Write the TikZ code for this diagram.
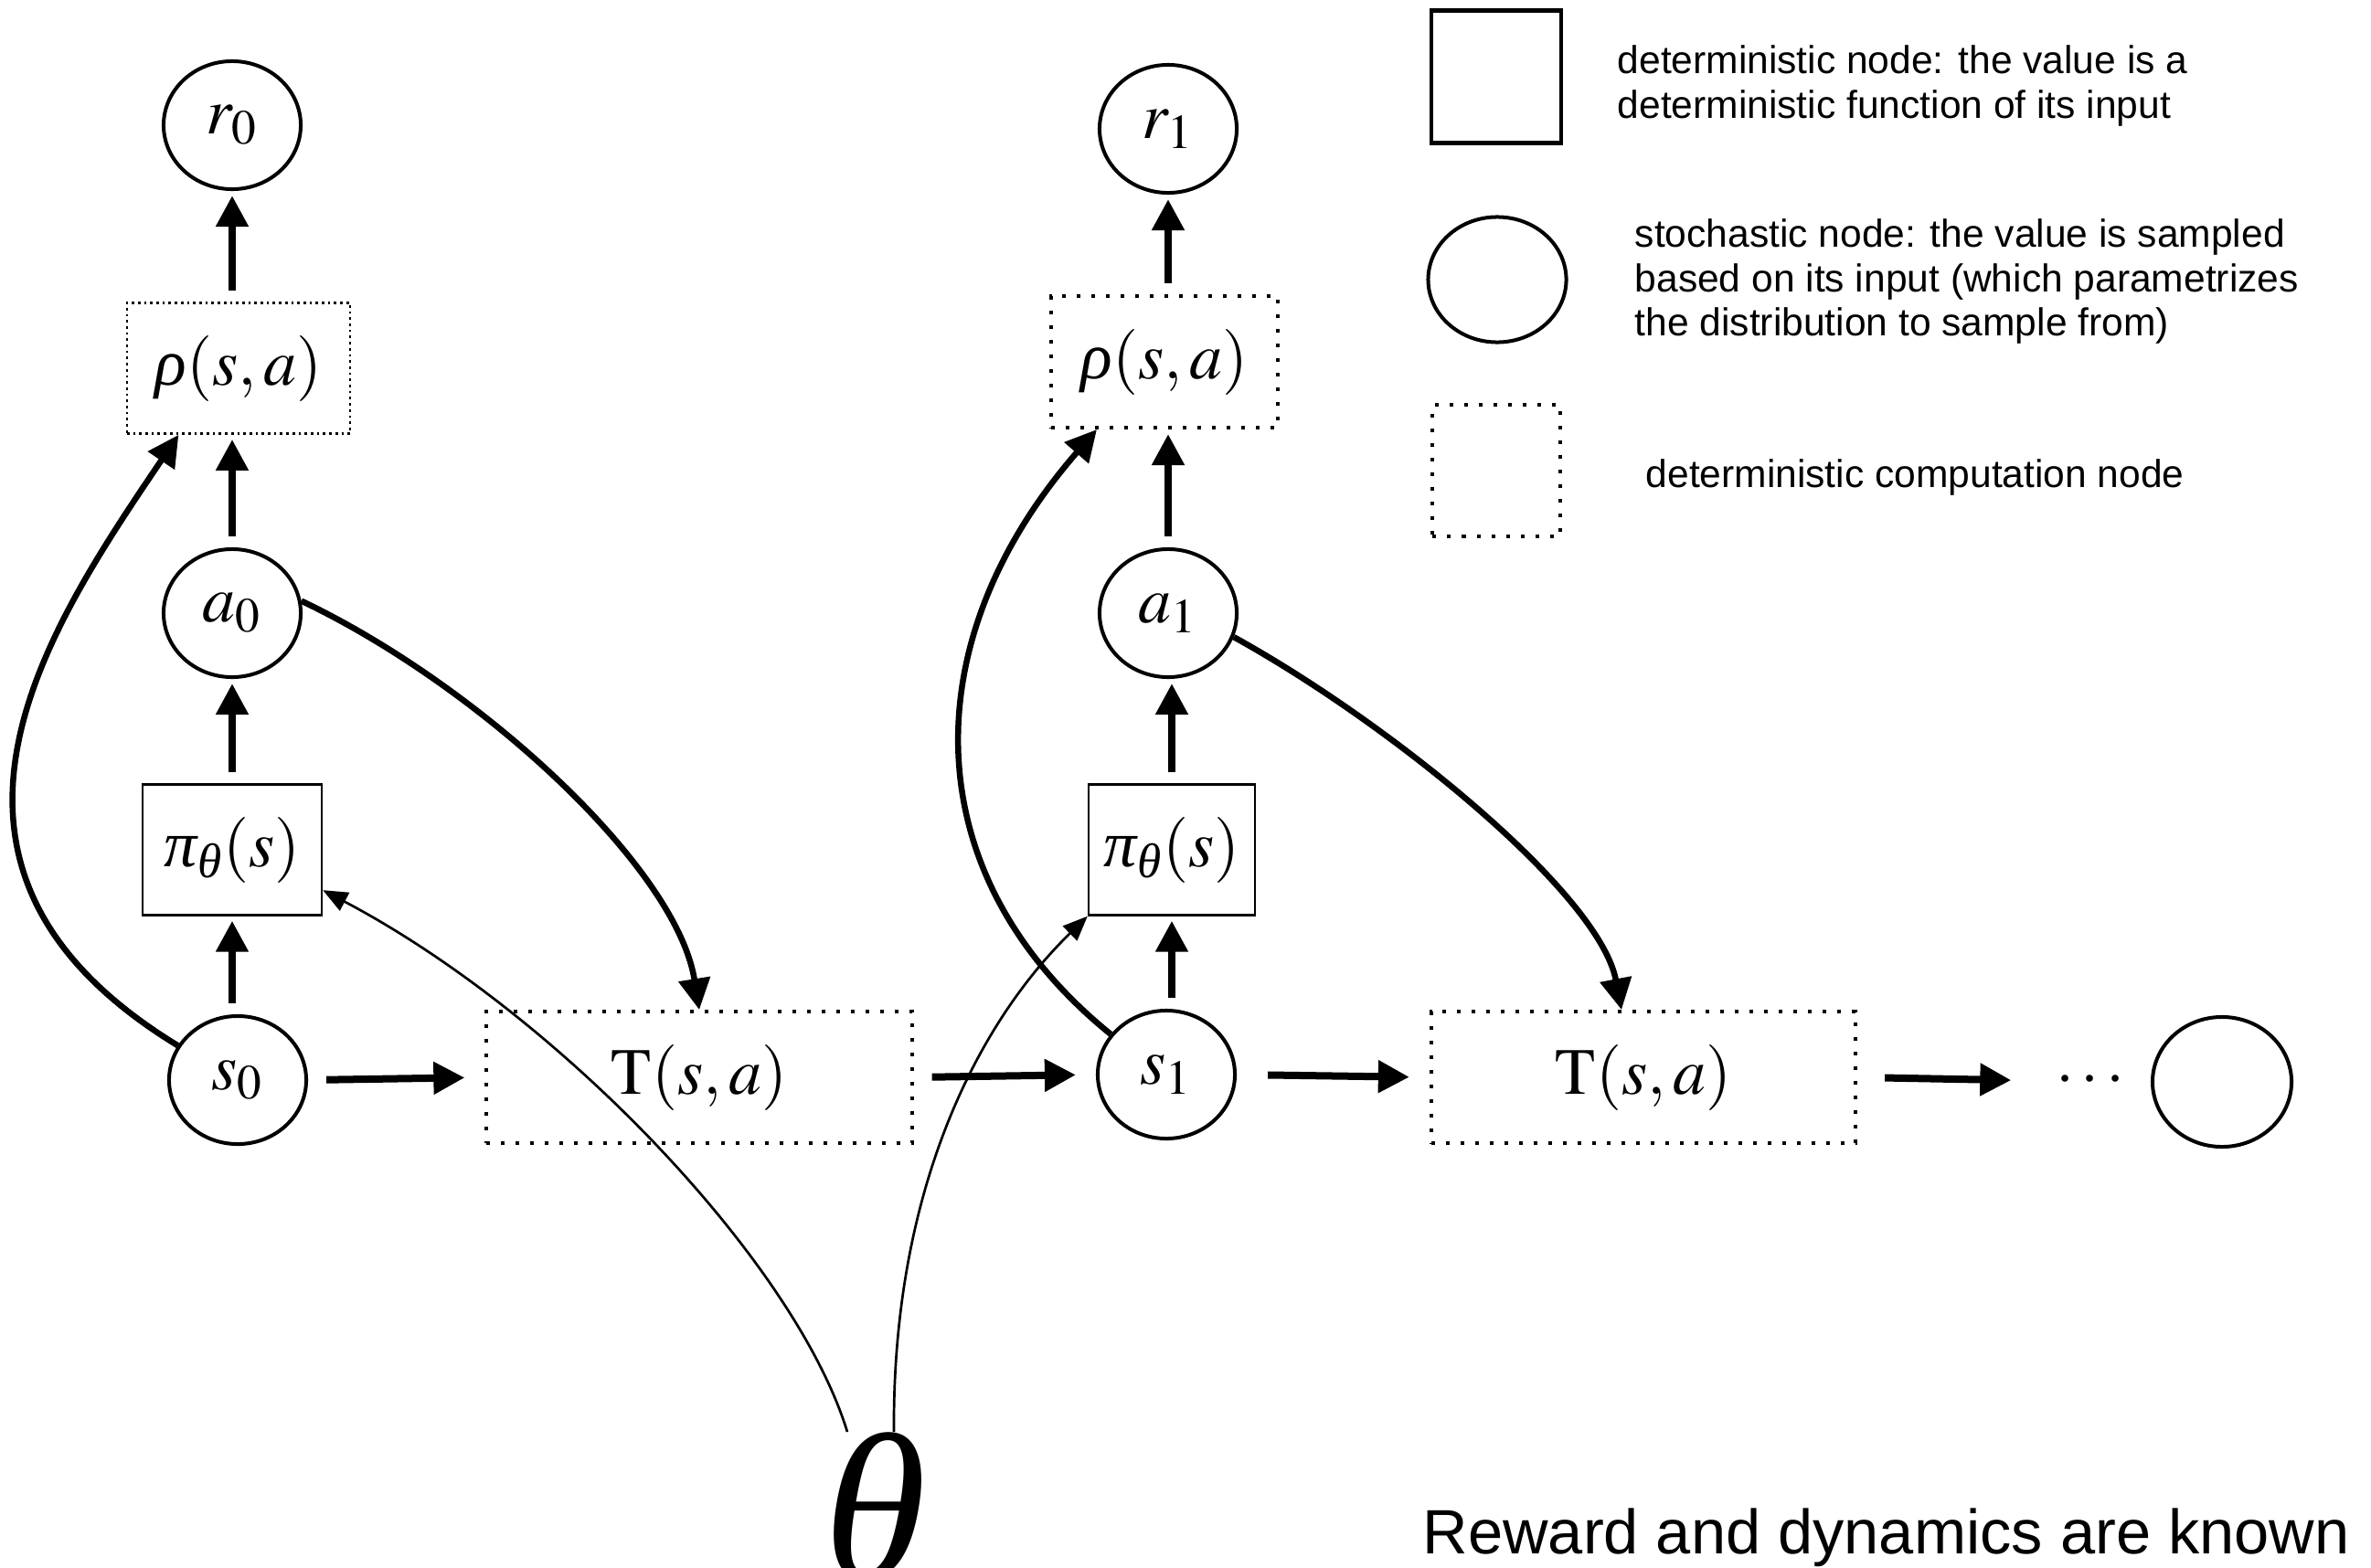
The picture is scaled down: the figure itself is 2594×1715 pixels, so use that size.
\documentclass[tikz,border=0pt]{standalone}
\usepackage{amsmath}
\usepackage{mathptmx}
\usepackage[no-math]{fontspec}
\newfontfamily\legendfont{Liberation Sans}
\newfontfamily\serifgr{Liberation Serif}
\usetikzlibrary{arrows.meta}
\usetikzlibrary{shapes.geometric}

\newcommand{\graphfont}{\fontsize{20.5}{24}\selectfont}
\newcommand{\grit}[1]{\text{\serifgr\itshape #1}}

\tikzset{
  stoch/.style={ellipse, draw, line width=0.04cm, minimum width=1.5cm, minimum height=1.4cm, inner sep=0pt, font=\graphfont},
  detbox/.style={rectangle, draw, line width=0.023cm, inner sep=0pt, minimum height=1.43cm, font=\graphfont},
  compthin/.style={rectangle, draw, line width=0.027cm, dash pattern=on 0.027cm off 0.04cm, inner sep=0pt, minimum height=1.43cm, font=\graphfont},
  compthick/.style={rectangle, draw, line width=0.04cm, dash pattern=on 0.04cm off 0.12cm, inner sep=0pt, minimum height=1.44cm, font=\graphfont},
  thickarr/.style={line width=0.08cm, -{Triangle[length=0.34cm, width=0.34cm]}},
  thickcurve/.style={line width=0.065cm, -{Triangle[length=0.34cm, width=0.34cm]}},
  thinarr/.style={line width=0.027cm, -{Triangle[length=0.27cm, width=0.22cm]}},
  vshort/.style={shorten <=0.12cm, shorten >=0.05cm},
  hshort/.style={shorten <=0.2cm, shorten >=0.22cm},
  legtext/.style={inner sep=0pt, align=left, font=\legendfont\fontsize{12.1}{13.9}\selectfont}
}

\begin{document}
\begin{tikzpicture}[x=0.01cm, y=-0.01cm]
\useasboundingbox (0,0) rectangle (2594,1715);

\node[stoch]                         (r0)   at ( 254,  137) {$r_0$};
\node[compthin, minimum width=2.44cm] (rho0) at ( 261,  403) {$\grit{ρ}(s,a)$};
\node[stoch]                         (a0)   at ( 254,  671) {$a_0$};
\node[detbox, minimum width=1.96cm]  (pi0)  at ( 254,  930) {$\grit{π}_{\grit{θ}}(s)$};
\node[stoch]                         (s0)   at ( 260, 1182) {$s_0$};
\node[compthick, minimum width=4.65cm] (T0) at ( 765, 1179) {$\mathrm{T}(s,a)$};

\node[stoch]                          (r1)   at (1278,  141) {$r_1$};
\node[compthick, minimum width=2.48cm] (rho1) at (1274,  396) {$\grit{ρ}(s,a)$};
\node[stoch]                          (a1)   at (1278,  671) {$a_1$};
\node[detbox, minimum width=1.82cm]   (pi1)  at (1282,  930) {$\grit{π}_{\grit{θ}}(s)$};
\node[stoch]                          (s1)   at (1276, 1176) {$s_1$};
\node[compthick, minimum width=4.64cm] (T1) at (1798, 1179) {$\mathrm{T}(s,a)$};
\node[inner sep=0pt, font=\graphfont] (dots) at (2291, 1183) {$\cdots$};
\node[stoch, minimum width=1.52cm, minimum height=1.42cm] (sN) at (2431, 1184) {};

\node[anchor=north, inner sep=0pt, font=\serifgr\itshape\fontsize{65}{65}\selectfont] (theta) at (958, 1567) {θ};

\draw[thickarr, vshort] (rho0.north -| r0) -- (r0);
\draw[thickarr, vshort] (a0) -- (rho0.south -| a0);
\draw[thickarr, vshort] (pi0) -- (a0);
\draw[thickarr, vshort] (s0.north -| pi0) -- (pi0);

\draw[thickarr, vshort] (rho1.north -| r1) -- (r1);
\draw[thickarr, vshort] (a1) -- (rho1.south -| a1);
\draw[thickarr, vshort] (pi1) -- (a1.south -| pi1);
\draw[thickarr, vshort] (s1.north -| pi1) -- (pi1);

\draw[thickarr, hshort] (s0.east) -- (T0.west);
\draw[thickarr, hshort] (T0.east) -- (s1.west);
\draw[thickarr, hshort, shorten <=0.34cm] (s1.east) -- (T1.west);
\draw[thickarr, hshort, shorten <=0.3cm, shorten >=0.48cm] (T1.east) -- (dots.west);

\draw[thickcurve] (s0.150) .. controls +(-320,-195) and +(-144,213) .. (rho0.228);
\draw[thickcurve] (a0.10) .. controls +(192,91) and +(-25,-157) .. (T0.north);
\draw[thickcurve] (s1.144) .. controls +(-215,-174) and +(-202,232) .. (rho1.225);
\draw[thickcurve] (a1.-20) .. controls +(172,95) and +(-24,-127) .. ([xshift=-0.24cm]T1.north);

\draw[thinarr] ([xshift=-0.31cm]theta.north) .. controls +(-57,-186) and +(258,136) .. (pi0.-24);
\draw[thinarr] ([xshift=0.2cm]theta.north) .. controls +(-2,-264) and +(-121,118) .. (pi1.south west);

\node[draw, line width=1.3pt, minimum width=1.42cm, minimum height=1.45cm] (legdet) at (1637, 84) {};
\node[legtext, anchor=west] (legdettext) at (1769, 94) {deterministic node: the value is a\\deterministic function of its input};
\node[stoch, minimum width=1.51cm, minimum height=1.37cm] (legsto) at (1638, 306) {};
\node[legtext, anchor=west] (legstotext) at (1788, 308) {stochastic node: the value is sampled\\based on its input (which parametrizes\\the distribution to sample from)};
\node[compthick, minimum width=1.39cm] (legcomp) at (1637, 515) {};
\node[legtext, anchor=west] (legcomptext) at (1800, 522) {deterministic computation node};

\node[anchor=base west, inner sep=0pt, font=\legendfont\fontsize{19.5}{22}\selectfont] (caption) at (1556, 1700) {Reward and dynamics are known};
\end{tikzpicture}
\end{document}
